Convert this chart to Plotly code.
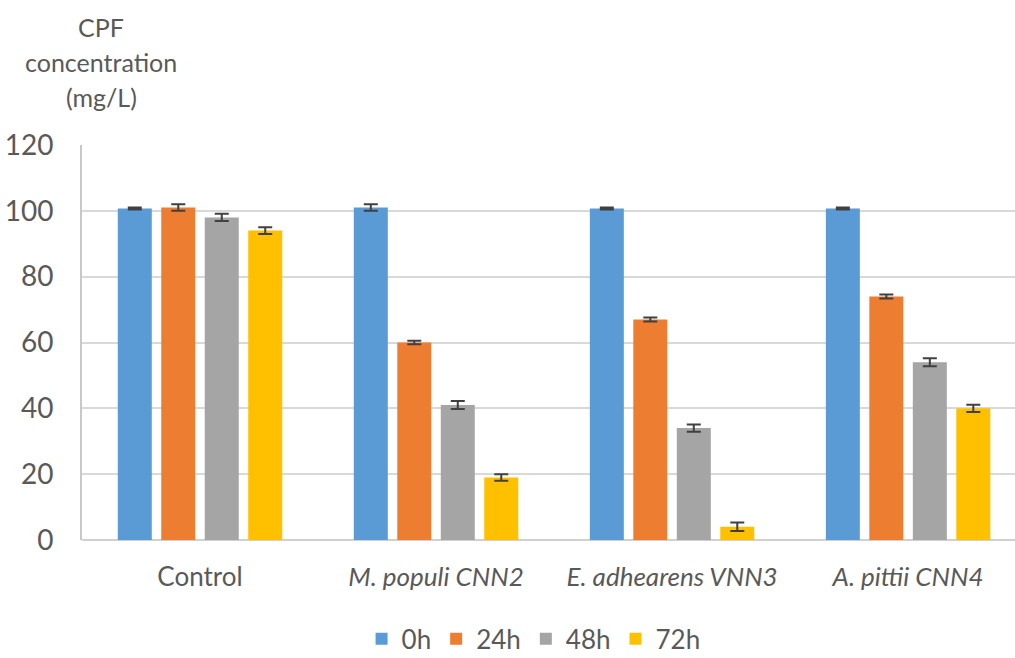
import plotly.graph_objects as go

# CPF concentration (mg/L) remaining after incubation, per treatment and time point
groups = ["Control", "<i>M. populi CNN2</i>", "<i>E. adhearens VNN3</i>", "<i>A. pittii CNN4</i>"]
times = ["0h", "24h", "48h", "72h"]

conc_0h = [100.7, 101.0, 100.7, 100.7]
conc_24h = [101.0, 60.0, 67.0, 74.0]
conc_48h = [98.0, 41.0, 34.0, 54.0]
conc_72h = [94.0, 19.0, 4.0, 40.0]

err_0h = [0.3, 1.0, 0.3, 0.3]
err_24h = [1.0, 0.5, 0.6, 0.6]
err_48h = [1.1, 1.2, 1.1, 1.2]
err_72h = [1.0, 1.0, 1.3, 1.1]

y_ticks = [0, 20, 40, 60, 80, 100, 120]

# y-axis title, one entry per line
y_title_lines = ["CPF", "concentration", "(mg/L)"]

colors = ["#5B9BD5", "#ED7D31", "#A5A5A5", "#FFC000"]
series = [conc_0h, conc_24h, conc_48h, conc_72h]
errors = [err_0h, err_24h, err_48h, err_72h]

FONT = "Lato, 'Open Sans', sans-serif"
TEXT = "#595959"

fig = go.Figure()
for name, vals, errs, col in zip(times, series, errors, colors):
    fig.add_trace(go.Bar(
        name=name,
        x=list(range(len(groups))),
        y=vals,
        marker=dict(color=col, line=dict(width=0)),
        error_y=dict(type="data", array=errs, visible=True,
                     color="#404040", thickness=2, width=7),
    ))

# stacked title lines above the value axis, centred over its labels
title_annotations = []
for i, line in enumerate(y_title_lines):
    title_annotations.append(dict(
        text=line,
        xref="paper", yref="paper",
        x=(101 - 82) / 933, y=1 + (145 - 27 - 35 * i) / 395,
        xanchor="center", yanchor="middle",
        showarrow=False, align="center",
        font=dict(family=FONT, size=25, color=TEXT),
    ))

fig.update_layout(
    barmode="group",
    bargap=0.263,
    bargroupgap=0.218,
    width=1015,
    height=658,
    margin=dict(l=82, r=0, t=145, b=118, autoexpand=False),
    paper_bgcolor="white",
    plot_bgcolor="white",
    font=dict(family=FONT, size=26, color=TEXT),
    showlegend=True,
    legend=dict(
        orientation="h",
        x=0.484, xanchor="center",
        y=-0.25, yanchor="middle",
        font=dict(family=FONT, size=26, color=TEXT),
        itemwidth=30,
        traceorder="normal",
    ),
    xaxis=dict(
        tickmode="array",
        tickvals=list(range(len(groups))),
        ticktext=groups,
        range=[-0.5, 3.453],
        showgrid=False,
        showline=False,
        zeroline=False,
        ticks="",
        automargin=False,
        tickfont=dict(family=FONT, size=26, color=TEXT),
        ticklabelstandoff=19,
    ),
    yaxis=dict(
        range=[0, 120],
        tickmode="array",
        tickvals=y_ticks,
        showgrid=True,
        gridcolor="#D9D9D9",
        gridwidth=2,
        zeroline=True,
        zerolinecolor="#D0D0D0",
        zerolinewidth=2,
        showline=True,
        linecolor="#C8C8C8",
        linewidth=2,
        ticks="",
        automargin=False,
        tickfont=dict(family=FONT, size=28, color=TEXT),
        ticklabelstandoff=21,
    ),
    annotations=title_annotations,
)

fig.write_html("out.html")
